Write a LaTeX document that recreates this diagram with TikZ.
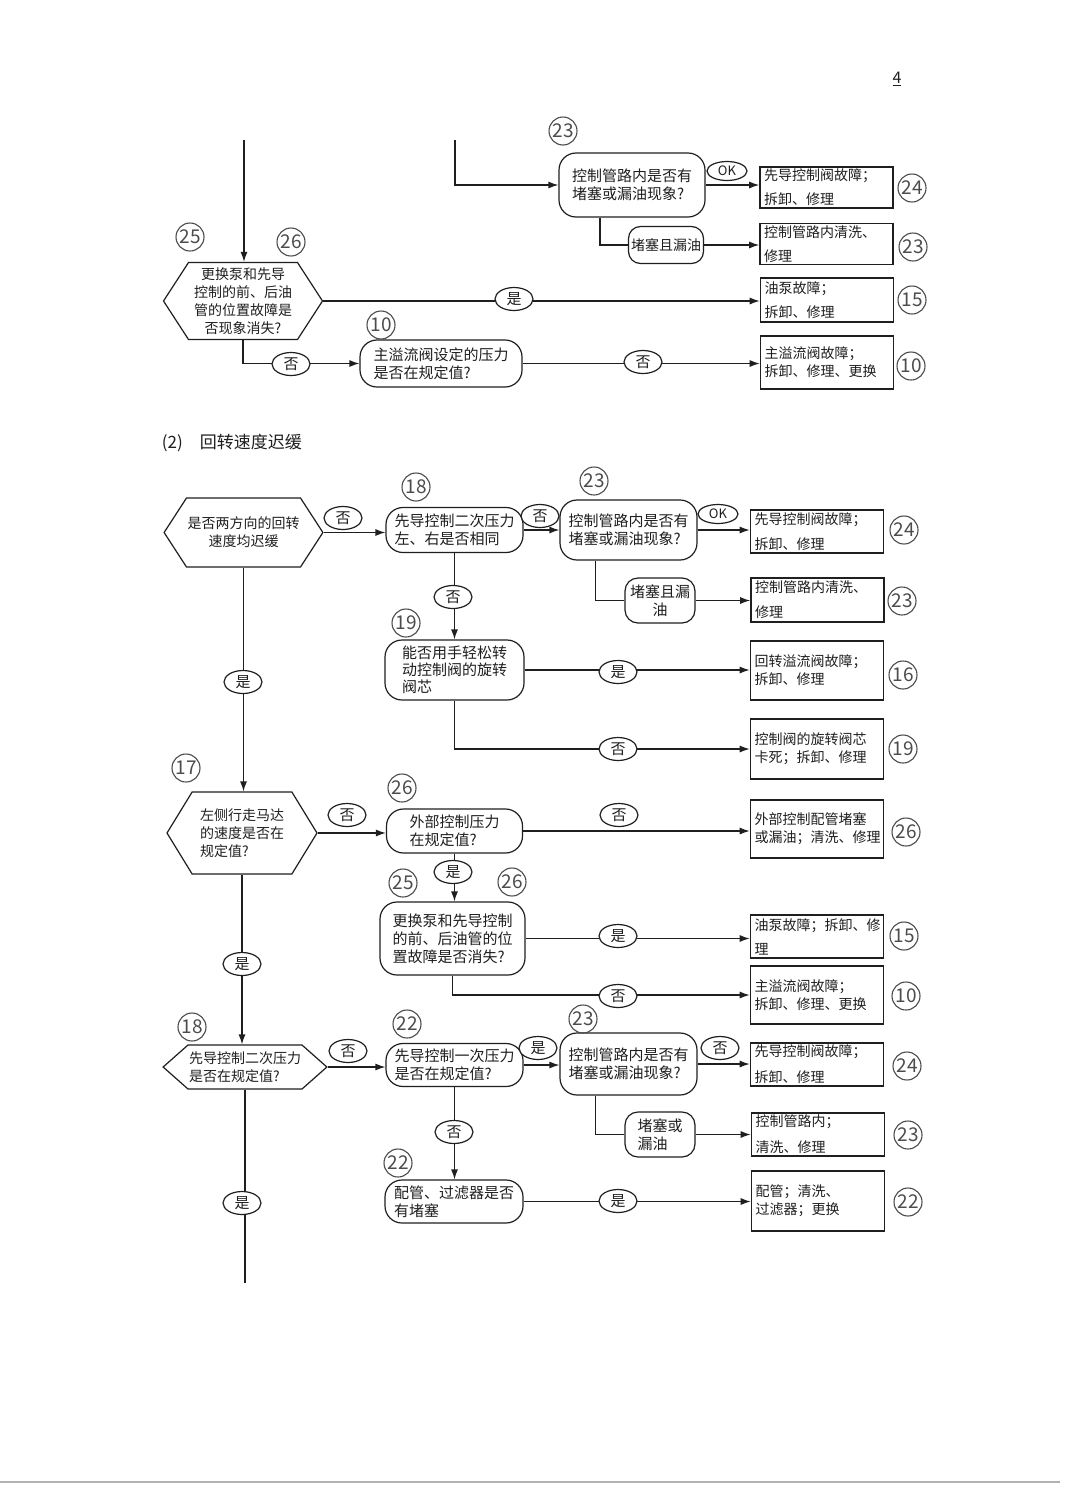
\documentclass[tikz,border=0pt]{standalone}
\usepackage{fontspec}
\usepackage{tikz}
\usetikzlibrary{arrows.meta,positioning,shapes,calc}
\newfontfamily\cjk{Noto Sans CJK SC}
\definecolor{inkgray}{gray}{0.12}
\definecolor{numgray}{gray}{0.3}
\definecolor{scangray}{gray}{0.7}

\begin{document}
\begin{tikzpicture}[x=1pt, y=-1pt, line width=1.2pt, color=inkgray,
    every node/.style={font=\cjk\fontsize{14}{18}\selectfont},
    hexa/.style={draw, shape=signal, signal to=west and east, inner sep=1pt, align=center},
    pill/.style={draw, rectangle, rounded corners=17pt, inner sep=2pt, align=left, font=\cjk\fontsize{15}{18}\selectfont},
    fixbox/.style={draw, rectangle, line width=1.6pt, inner xsep=4pt, inner ysep=2pt, text width=125pt, align=left},
    yn/.style={draw, ellipse, fill=white, inner sep=0pt, minimum width=38pt, minimum height=23pt, font=\cjk\fontsize{15}{18}\selectfont},
    num/.style={draw=numgray, circle, text=numgray, minimum size=28pt, inner sep=0pt, line width=1.1pt, font=\cjk\fontsize{19}{19}\selectfont},
    arr/.style={-{Latex[length=10pt,width=7pt]}}]

    \fill[white] (0,0) rectangle (1080,1486);
    \useasboundingbox (0,0) rectangle (1080,1486);

    \node[font=\cjk\fontsize{16}{18}\selectfont] (pgno) at (897,79) {\underline{4}};

    % upper part
    \coordinate (topL) at (244,140);
    \coordinate (topR) at (455,140);
    \node[pill, minimum width=146pt, minimum height=64pt] (chk1) at (632,185) {控制管路内是否有\\堵塞或漏油现象?};
    \node[pill, minimum width=75pt, minimum height=37pt, inner xsep=1pt, rounded corners=12pt, font=\cjk\fontsize{14}{18}\selectfont] (leak1) at (666,245) {堵塞且漏油};
    \node[fixbox, minimum height=41pt] (f24a) at (826.5,187.5) {先导控制阀故障；\\[6pt]拆卸、修理};
    \node[fixbox, minimum height=40pt] (f23a) at (826.5,244) {控制管路内清洗、\\[6pt]修理};
    \node[hexa, minimum width=159pt, minimum height=77pt, signal pointer angle=114] (hx1) at (243,301) {更换泵和先导\\控制的前、后油\\管的位置故障是\\否现象消失?};
    \node[fixbox, minimum height=44pt] (f15a) at (827,300) {油泵故障；\\[6pt]拆卸、修理};
    \node[pill, minimum width=162pt, minimum height=47pt] (p1) at (441,363.5) {主溢流阀设定的压力\\是否在规定值?};
    \node[fixbox, minimum height=53pt] (f10a) at (827,362.5) {主溢流阀故障；\\拆卸、修理、更换};

    \draw[arr] (topL) -- (topL |- hx1.north);
    \draw[arr] (topR) |- (chk1.west);
    \draw[arr] (chk1.east) -- (chk1.east -| f24a.west);
    \draw ([xshift=-32pt]chk1.south) |- (leak1.west);
    \draw[arr] (leak1.east) -- (leak1.east -| f23a.west);
    \draw[arr] (hx1.east) -- (hx1.east -| f15a.west);
    \draw[arr] (hx1.south) |- (p1.west);
    \draw[arr] (p1.east) -- (p1.east -| f10a.west);

    \node[yn, minimum width=40pt, minimum height=19pt, font=\cjk\fontsize{13}{15}\selectfont] (ok1) at (727,171) {OK};
    \node[yn] (yes1) at (514,299) {是};
    \node[yn] (no1) at (291,364) {否};
    \node[yn] (no2) at (643,362) {否};

    \node[num] (n23a) at (563,131) {23};
    \node[num] (n24a) at (912,188) {24};
    \node[num] (n23b) at (913,247) {23};
    \node[num] (n25a) at (190,237) {25};
    \node[num] (n26a) at (291,242) {26};
    \node[num] (n15a) at (912,300) {15};
    \node[num] (n10a) at (381,325) {10};
    \node[num] (n10b) at (911,366) {10};

    \node[anchor=west, font=\cjk\fontsize{17}{20}\selectfont] (ttl) at (158,443) {(2)\quad 回转速度迟缓};

    % lower part
    \node[hexa, minimum width=157pt, minimum height=69pt, signal pointer angle=114] (hx2) at (243.5,532.5) {是否两方向的回转\\速度均迟缓};
    \node[pill, minimum width=137pt, minimum height=45pt] (c1) at (454.5,530) {先导控制二次压力\\左、右是否相同};
    \node[pill, minimum width=137pt, minimum height=60pt] (c2) at (628.5,530) {控制管路内是否有\\堵塞或漏油现象?};
    \node[fixbox, minimum height=43pt] (f24b) at (817,531.5) {先导控制阀故障；\\[7pt]拆卸、修理};
    \node[pill, minimum width=70pt, minimum height=45pt, align=center, rounded corners=13pt] (leak2) at (660,600.5) {堵塞且漏\\油};
    \node[fixbox, minimum height=44pt] (f23b) at (817.5,600) {控制管路内清洗、\\[7pt]修理};
    \node[pill, minimum width=139pt, minimum height=60pt, font=\cjk\fontsize{15}{17}\selectfont] (d1) at (454.5,670) {能否用手轻松转\\动控制阀的旋转\\阀芯};
    \node[fixbox, minimum height=59pt] (f16) at (817,670.5) {回转溢流阀故障；\\拆卸、修理};
    \node[fixbox, minimum height=60pt] (f19) at (817,749) {控制阀的旋转阀芯\\卡死；拆卸、修理};

    \node[hexa, minimum width=150pt, minimum height=82pt, signal pointer angle=117, align=left] (hx3) at (242,833) {左侧行走马达\\的速度是否在\\规定值?};
    \node[pill, minimum width=136pt, minimum height=44pt] (e1) at (454.5,831) {外部控制压力\\在规定值?};
    \node[fixbox, minimum height=58pt] (f26) at (817,829) {外部控制配管堵塞\\或漏油；清洗、修理};
    \node[pill, minimum width=145pt, minimum height=73pt] (f1) at (452.5,938.5) {更换泵和先导控制\\的前、后油管的位\\置故障是否消失?};
    \node[fixbox, minimum height=43pt] (f15b) at (817,936.5) {油泵故障；拆卸、修\\[6pt]理};
    \node[fixbox, minimum height=58pt] (f10b) at (817,995) {主溢流阀故障；\\拆卸、修理、更换};

    \node[hexa, minimum width=160pt, minimum height=44pt, signal pointer angle=83, align=left] (hx4) at (245,1067) {先导控制二次压力\\是否在规定值?};
    \node[pill, minimum width=137pt, minimum height=43pt] (g1) at (454.5,1065) {先导控制一次压力\\是否在规定值?};
    \node[pill, minimum width=137pt, minimum height=62pt] (g2) at (628.5,1064) {控制管路内是否有\\堵塞或漏油现象?};
    \node[fixbox, minimum height=43pt] (f24c) at (817,1064.5) {先导控制阀故障；\\[8pt]拆卸、修理};
    \node[pill, minimum width=70pt, minimum height=45pt, rounded corners=13pt] (leak3) at (660,1134.5) {堵塞或\\漏油};
    \node[fixbox, minimum height=43pt] (f23c) at (818,1134.5) {控制管路内；\\[8pt]清洗、修理};
    \node[pill, minimum width=138pt, minimum height=43pt] (h1n) at (454,1201.5) {配管、过滤器是否\\有堵塞};
    \node[fixbox, minimum height=60pt] (f22) at (818,1201) {配管；清洗、\\过滤器；更换};
    \coordinate (botL) at (243,1283);

    \draw[arr] (hx2.east) -- (hx2.east -| c1.west);
    \draw[arr] (c1.east) -- (c1.east -| c2.west);
    \draw[arr] (c2.east) -- (c2.east -| f24b.west);
    \draw ([xshift=-33pt]c2.south) |- (leak2.west);
    \draw[arr] (leak2.east) -- (leak2.east -| f23b.west);
    \draw[arr] (c1.south) -- (d1.north);
    \draw[arr] (d1.east) -- (d1.east -| f16.west);
    \draw[arr] (d1.south) |- (f19.west);
    \draw[arr] (hx2.south) -- (hx2.south |- hx3.north);
    \draw[arr] (hx3.east) -- (hx3.east -| e1.west);
    \draw[arr] (e1.east) -- (e1.east -| f26.west);
    \draw[arr] (e1.south) -- (e1.south |- f1.north);
    \draw[arr] (f1.east) -- (f1.east -| f15b.west);
    \draw[arr] (f1.south) |- (f10b.west);
    \draw[arr] (hx3.south) -- (hx3.south |- hx4.north);
    \draw[arr] (hx4.east) -- (hx4.east -| g1.west);
    \draw[arr] (g1.east) -- (g1.east -| g2.west);
    \draw[arr] (g2.east) -- (g2.east -| f24c.west);
    \draw ([xshift=-33pt]g2.south) |- (leak3.west);
    \draw[arr] (leak3.east) -- (leak3.east -| f23c.west);
    \draw[arr] (g1.south) -- (g1.south |- h1n.north);
    \draw[arr] (h1n.east) -- (h1n.east -| f22.west);
    \draw (hx4.south) -- (hx4.south |- botL);

    \node[yn] (no3) at (343,518) {否};
    \node[yn] (no4) at (540,516) {否};
    \node[yn, minimum width=40pt, minimum height=19pt, font=\cjk\fontsize{13}{15}\selectfont] (ok2) at (718,514) {OK};
    \node[yn] (no5) at (453,597) {否};
    \node[yn] (yes2) at (618,672) {是};
    \node[yn] (no6) at (618,749) {否};
    \node[yn] (yes3) at (243,682) {是};
    \node[yn] (no7) at (347,815) {否};
    \node[yn] (no8) at (619,815) {否};
    \node[yn] (yes4) at (453,872) {是};
    \node[yn] (yes5) at (618,936) {是};
    \node[yn] (no9) at (618,996) {否};
    \node[yn] (yes6) at (242,964) {是};
    \node[yn] (no10) at (348,1051) {否};
    \node[yn] (yes7) at (538,1048) {是};
    \node[yn] (no11) at (720,1048) {否};
    \node[yn] (no12) at (454,1132) {否};
    \node[yn] (yes8) at (618,1201) {是};
    \node[yn] (yes9) at (242,1203) {是};

    \node[num] (n18a) at (416,487) {18};
    \node[num] (n23c) at (594,481) {23};
    \node[num] (n24b) at (904,530) {24};
    \node[num] (n23d) at (902,601) {23};
    \node[num] (n19a) at (406,623) {19};
    \node[num] (n16) at (903,675) {16};
    \node[num] (n19b) at (903,749) {19};
    \node[num] (n17) at (186,768) {17};
    \node[num] (n26b) at (402,788) {26};
    \node[num] (n26c) at (906,832) {26};
    \node[num] (n25b) at (403,883) {25};
    \node[num] (n26d) at (512,882) {26};
    \node[num] (n15b) at (904,936) {15};
    \node[num] (n10c) at (906,996) {10};
    \node[num] (n18b) at (192,1027) {18};
    \node[num] (n22a) at (407,1024) {22};
    \node[num] (n23e) at (583,1019) {23};
    \node[num] (n24c) at (907,1066) {24};
    \node[num] (n23f) at (908,1135) {23};
    \node[num] (n22b) at (398,1163) {22};
    \node[num] (n22c) at (908,1202) {22};

    \draw[scangray, line width=1.5pt] (0,1482) -- (1060,1482);
\end{tikzpicture}
\end{document}
